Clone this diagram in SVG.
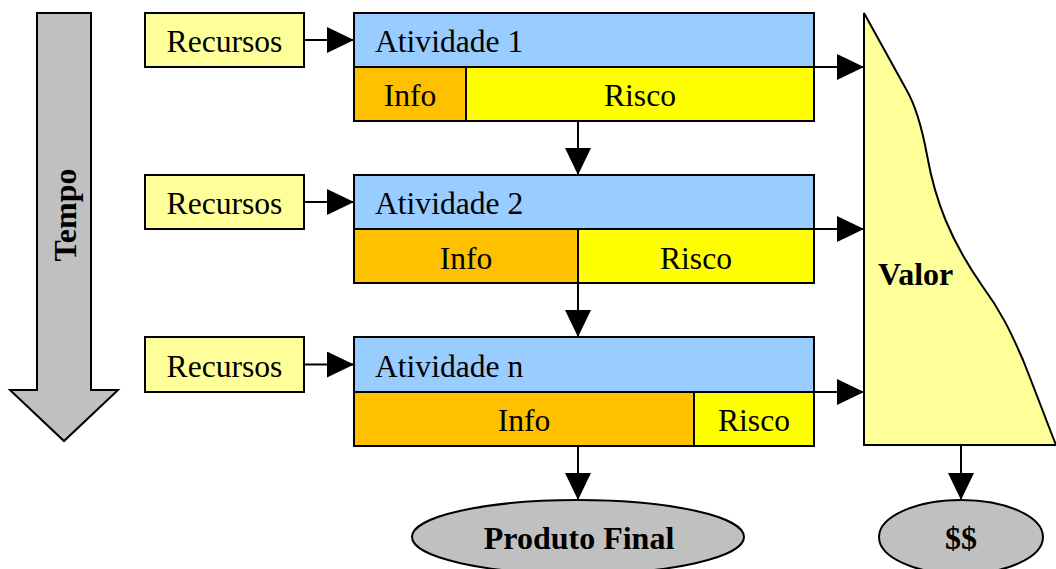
<svg xmlns="http://www.w3.org/2000/svg" width="1056" height="569" viewBox="0 0 1056 569">
  <style>
    .box { stroke: #000; stroke-width: 2; }
    .res { fill: #FFFF99; }
    .act { fill: #99CCFF; }
    .info { fill: #FFC000; }
    .risk { fill: #FFFF00; }
    .grey { fill: #C0C0C0; }
    .t { font-family: "Liberation Serif", "DejaVu Serif", serif; font-size: 31.6px; fill: #000; }
    .c { text-anchor: middle; }
    .b { font-weight: bold; font-size: 32px; }
    .edge { stroke: #000; stroke-width: 2; fill: none; marker-end: url(#head); }
  </style>
  <defs>
    <marker id="head" markerUnits="userSpaceOnUse" markerWidth="27" markerHeight="26" refX="27" refY="13" orient="auto">
      <path d="M0,0 L27,13 L0,26 Z" fill="#000"/>
    </marker>
  </defs>
  <rect width="1056" height="569" fill="#fff"/>

  <!-- time arrow -->
  <g id="tempo">
    <polygon class="box grey" points="37,13 91,13 91,390 118,390 64,441 10,390 37,390"/>
    <text class="t c b" transform="translate(76,215) rotate(-90)">Tempo</text>
  </g>

  <!-- resource inputs -->
  <g id="recursos1">
    <rect class="box res" x="145" y="13" width="159" height="54"/>
    <text class="t c" x="224.5" y="52">Recursos</text>
  </g>
  <g id="recursos2">
    <rect class="box res" x="145" y="175" width="159" height="54"/>
    <text class="t c" x="224.5" y="214">Recursos</text>
  </g>
  <g id="recursos3">
    <rect class="box res" x="145" y="337" width="159" height="55"/>
    <text class="t c" x="224.5" y="377">Recursos</text>
  </g>

  <!-- activities -->
  <g id="atividade1">
    <rect class="box act" x="354" y="13" width="460" height="54"/>
    <text class="t" x="375" y="52">Atividade 1</text>
    <rect class="box info" x="354" y="67" width="112" height="54"/>
    <text class="t c" x="410" y="106">Info</text>
    <rect class="box risk" x="466" y="67" width="348" height="54"/>
    <text class="t c" x="640" y="106">Risco</text>
  </g>
  <g id="atividade2">
    <rect class="box act" x="354" y="175" width="460" height="54"/>
    <text class="t" x="375" y="214">Atividade 2</text>
    <rect class="box info" x="354" y="229" width="224" height="54"/>
    <text class="t c" x="466" y="269">Info</text>
    <rect class="box risk" x="578" y="229" width="236" height="54"/>
    <text class="t c" x="696" y="269">Risco</text>
  </g>
  <g id="atividadeN">
    <rect class="box act" x="354" y="337" width="460" height="55"/>
    <text class="t" x="375" y="377">Atividade n</text>
    <rect class="box info" x="354" y="392" width="340" height="54"/>
    <text class="t c" x="524" y="431">Info</text>
    <rect class="box risk" x="694" y="392" width="120" height="54"/>
    <text class="t c" x="754" y="431">Risco</text>
  </g>

  <!-- value curve -->
  <g id="valor">
    <path class="box res" d="M864,13 L906,89 C916,106 922,128 927,155 C935,200 950,240 983,287 C1000,310 1010,330 1023,360 C1035,390 1048,425 1056,445 L864,445 Z"/>
    <text class="t b" x="878" y="285">Valor</text>
  </g>

  <!-- outputs -->
  <g id="produto">
    <ellipse class="box grey" cx="578" cy="537" rx="166" ry="37"/>
    <text class="t c b" x="579" y="549">Produto Final</text>
  </g>
  <g id="dinheiro">
    <ellipse class="box grey" cx="961" cy="537" rx="82" ry="37"/>
    <text class="t c b" x="961" y="549">$$</text>
  </g>

  <!-- connectors -->
  <g id="connectors">
    <line class="edge" x1="304" y1="40" x2="354" y2="40"/>
    <line class="edge" x1="304" y1="202" x2="354" y2="202"/>
    <line class="edge" x1="304" y1="364.5" x2="354" y2="364.5"/>
    <line class="edge" x1="578" y1="121" x2="578" y2="175"/>
    <line class="edge" x1="578" y1="283" x2="578" y2="337"/>
    <line class="edge" x1="578" y1="446" x2="578" y2="500"/>
    <line class="edge" x1="814" y1="67" x2="864" y2="67"/>
    <line class="edge" x1="814" y1="229" x2="864" y2="229"/>
    <line class="edge" x1="814" y1="392" x2="864" y2="392"/>
    <line class="edge" x1="961" y1="445" x2="961" y2="500"/>
  </g>
</svg>
